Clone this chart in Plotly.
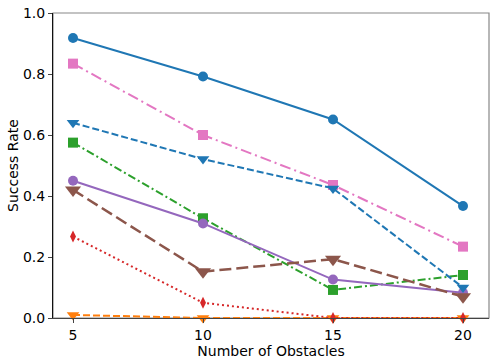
import plotly.graph_objects as go

obstacles = [5, 10, 15, 20]

# success rates per method
blue_circle = [0.918, 0.792, 0.651, 0.367]
orange_tri = [0.01, 0.0, 0.0, 0.0]
green_square = [0.575, 0.327, 0.092, 0.141]
red_diamond = [0.267, 0.05, 0.0, 0.0]
purple_circle = [0.45, 0.31, 0.126, 0.083]
brown_tri = [0.42, 0.152, 0.193, 0.07]
pink_square = [0.834, 0.60, 0.436, 0.234]
blue_tri = [0.64, 0.521, 0.425, 0.1]

series = [
    (blue_circle, "#1f77b4", "solid", "circle", 10, 2),
    (orange_tri, "#ff7f0e", "7px,3px", "triangle-down", 11, 2),
    (green_square, "#2ca02c", "8px,3px,2px,3px", "square", 10, 2),
    (red_diamond, "#d62728", "2px,3px", "diamond-tall", 8.5, 2),
    (purple_circle, "#9467bd", "solid", "circle", 10, 2),
    (brown_tri, "#8c564b", "12px,5px", "triangle-down", 14, 2.5),
    (pink_square, "#e377c2", "11px,4px,2px,4px", "square", 10, 2),
    (blue_tri, "#1f77b4", "7px,3px", "triangle-down", 11, 2),
]

fig = go.Figure()
for vals, color, dash, symbol, size, width in series:
    fig.add_trace(go.Scatter(
        x=obstacles, y=vals, mode="lines+markers",
        line=dict(color=color, dash=dash, width=width),
        marker=dict(color=color, symbol=symbol, size=size),
        cliponaxis=False, showlegend=False,
    ))

# grey frame on top/right, like the matplotlib spines
fig.add_shape(type="rect", xref="paper", yref="paper", x0=0, y0=0, x1=1, y1=1,
              line=dict(color="#888", width=1.2), layer="below")

fig.update_layout(
    width=498, height=362,
    margin=dict(l=53, r=9, t=13, b=44, autoexpand=False),
    plot_bgcolor="white", paper_bgcolor="white",
    font=dict(family="DejaVu Sans", size=14, color="black"),
)
fig.update_xaxes(
    range=[4.23, 21], tickvals=obstacles, ticks="outside", ticklen=4,
    showgrid=False, zeroline=False, showline=True, linecolor="#444",
    tickfont=dict(size=14), automargin=False,
    title=dict(text="Number of Obstacles", standoff=0, font=dict(size=14)),
)
fig.update_yaxes(
    range=[0, 1], tickvals=[0, 0.2, 0.4, 0.6, 0.8, 1.0], tickformat=".1f",
    ticks="outside", ticklen=4, showgrid=False, zeroline=False,
    showline=True, linecolor="#111",
    tickfont=dict(size=14), automargin=False,
    title=dict(text="Success Rate", standoff=1, font=dict(size=14)),
)

fig.write_html("out.html", config={"displayModeBar": False},
               post_script="document.body.style.margin='0';")
